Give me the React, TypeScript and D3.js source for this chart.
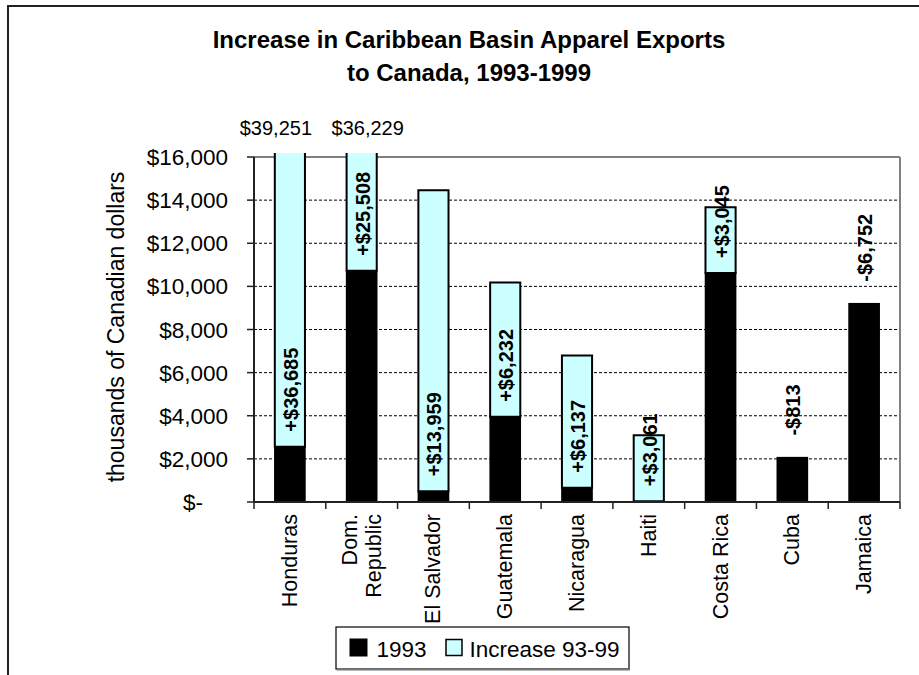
import React from "react";
import * as d3 from "d3";

const categories = ["Honduras", "Dom.\nRepublic", "El Salvador", "Guatemala", "Nicaragua", "Haiti", "Costa Rica", "Cuba", "Jamaica"];
const value1993 = [2566, 10721, 500, 3950, 660, 40, 10620, 2058, 9197];
const change9399 = [36685, 25508, 13959, 6232, 6137, 3061, 3045, -813, -6752];
const yTicks = [0, 2000, 4000, 6000, 8000, 10000, 12000, 14000, 16000];
const titleLines = ["Increase in Caribbean Basin Apparel Exports", "to Canada, 1993-1999"];
const yAxisTitle = "thousands of Canadian dollars";
const legendLabels = ["1993", "Increase 93-99"];
const topLabelShift = [-14, 6];

const W = 919;
const H = 675;
const plot = { left: 254, right: 900, top: 157, bottom: 502 };
const FONT = "'Liberation Sans', Arial, Helvetica, sans-serif";
const CYAN = "#CCFFFF";

export default function App() {
  const x = d3.scaleBand<string>().domain(categories).range([plot.left, plot.right]).padding(0);
  const y = d3.scaleLinear().domain([0, 16000]).range([plot.bottom, plot.top]);
  const step = x.step();
  const barW = x.bandwidth() * 0.42;
  const fmt = d3.format(",");
  const money = (v: number) => (v === 0 ? "$-" : "$" + fmt(Math.abs(v)));
  const signed = (v: number) => (v >= 0 ? "+" : "-") + "$" + fmt(Math.abs(v));
  const clipTop = plot.top - 4;

  const bounds = d3.range(categories.length + 1).map((i) => plot.left + i * step);

  return (
    <svg width={W} height={H} style={{ position: "absolute", left: 0, top: 0, background: "#fff" }} fontFamily={FONT}>
      <rect x={0} y={0} width={W} height={H} fill="#fff" />
      <rect x={8} y={6} width={1000} height={1000} fill="#fff" stroke="#222" strokeWidth={2} />

      {titleLines.map((t, i) => (
        <text key={i} x={469} y={48 + i * 33} textAnchor="middle" fontWeight="bold" fontSize={24} fill="#000">
          {t}
        </text>
      ))}

      {/* gridlines */}
      {yTicks.filter((t) => t > 0 && t < 16000).map((t) => (
        <line key={t} x1={plot.left} x2={plot.right} y1={y(t)} y2={y(t)} stroke="#000" strokeWidth={1} strokeDasharray="3,2" />
      ))}
      {/* plot border top/right */}
      <line x1={plot.left} x2={plot.right} y1={plot.top} y2={plot.top} stroke="#808080" strokeWidth={2} />
      <line x1={plot.right} x2={plot.right} y1={plot.top} y2={plot.bottom} stroke="#808080" strokeWidth={2} />

      {/* bars */}
      {categories.map((c, i) => {
        const cx = (x(c) as number) + x.bandwidth() / 2;
        const x0 = cx - barW / 2;
        const base = value1993[i];
        const inc = Math.max(change9399[i], 0);
        const yb = y(base);
        const yTotal = y(base + inc);
        const clipped = yTotal < clipTop;
        const yt = clipped ? clipTop : yTotal;
        return (
          <g key={c}>
            <rect x={x0} y={yb} width={barW} height={y(0) - yb} fill="#000" stroke="#000" strokeWidth={1.5} />
            {inc > 0 && (
              <g>
                <rect x={x0} y={yt} width={barW} height={yb - yt} fill={CYAN} />
                <path
                  d={
                    clipped
                      ? `M${x0},${yt}V${yb}H${x0 + barW}V${yt}`
                      : `M${x0},${yt}V${yb}H${x0 + barW}V${yt}Z`
                  }
                  fill="none"
                  stroke="#000"
                  strokeWidth={2}
                />
              </g>
            )}
          </g>
        );
      })}

      {/* axes */}
      <line x1={plot.left} x2={plot.left} y1={plot.top} y2={plot.bottom} stroke="#222" strokeWidth={2} />
      <line x1={plot.left} x2={plot.right} y1={plot.bottom} y2={plot.bottom} stroke="#222" strokeWidth={2} />
      {yTicks.map((t) => (
        <line key={t} x1={plot.left - 7} x2={plot.left} y1={y(t)} y2={y(t)} stroke="#222" strokeWidth={1.5} />
      ))}
      {bounds.map((b, i) => (
        <line key={i} x1={b} x2={b} y1={plot.bottom} y2={plot.bottom + 7} stroke="#222" strokeWidth={1.5} />
      ))}

      {/* y tick labels */}
      {yTicks.map((t) => (
        <text key={t} x={t === 0 ? 203 : 228} y={y(t) + 8} textAnchor="end" fontSize={22.5} fill="#000">
          {money(t)}
        </text>
      ))}
      <text transform={`translate(124,327) rotate(-90)`} textAnchor="middle" fontSize={23} fill="#000">
        {yAxisTitle}
      </text>

      {/* x labels */}
      {categories.map((c) => {
        const cx = (x(c) as number) + x.bandwidth() / 2;
        const lines = c.split("\n");
        const lh = 24;
        return lines.map((ln, j) => {
          const bx = cx + 7 + (j - (lines.length - 1) / 2) * lh;
          return (
            <text key={c + j} transform={`translate(${bx},${plot.bottom + 12}) rotate(-90)`} textAnchor="end" fontSize={21.5} fill="#000">
              {ln}
            </text>
          );
        });
      })}

      {/* change labels */}
      {categories.map((c, i) => {
        const cx = (x(c) as number) + x.bandwidth() / 2;
        const ch = change9399[i];
        const yb = y(value1993[i]);
        const yy = ch >= 0 ? yb - 15 : yb - 22;
        return (
          <text key={c} transform={`translate(${cx + 8},${yy}) rotate(-90)`} textAnchor="start" fontWeight="bold" fontSize={20} fill="#000">
            {signed(ch)}
          </text>
        );
      })}

      {/* totals above clipped bars */}
      {categories
        .map((c, i) => ({ c, i, total: value1993[i] + Math.max(change9399[i], 0) }))
        .filter((d) => d.total > 16000)
        .map((d, k) => {
          const cx = (x(d.c) as number) + x.bandwidth() / 2;
          return (
            <text key={d.c} x={cx + topLabelShift[k]} y={135} textAnchor="middle" fontSize={20} fill="#000">
              {money(d.total)}
            </text>
          );
        })}

      {/* legend */}
      <rect x={336} y={627} width={293} height={42} fill="#fff" stroke="#000" strokeWidth={1.2} />
      <line x1={337} x2={630} y1={669.5} y2={669.5} stroke="#777" strokeWidth={2} />
      <rect x={350} y={639} width={17} height={17} fill="#000" stroke="#000" strokeWidth={1} />
      <text x={376.5} y={657} fontSize={22.5} fill="#000">{legendLabels[0]}</text>
      <rect x={446} y={639.5} width={16} height={16} fill={CYAN} stroke="#000" strokeWidth={1.5} />
      <text x={469.5} y={657} fontSize={22.5} fill="#000">{legendLabels[1]}</text>
    </svg>
  );
}
